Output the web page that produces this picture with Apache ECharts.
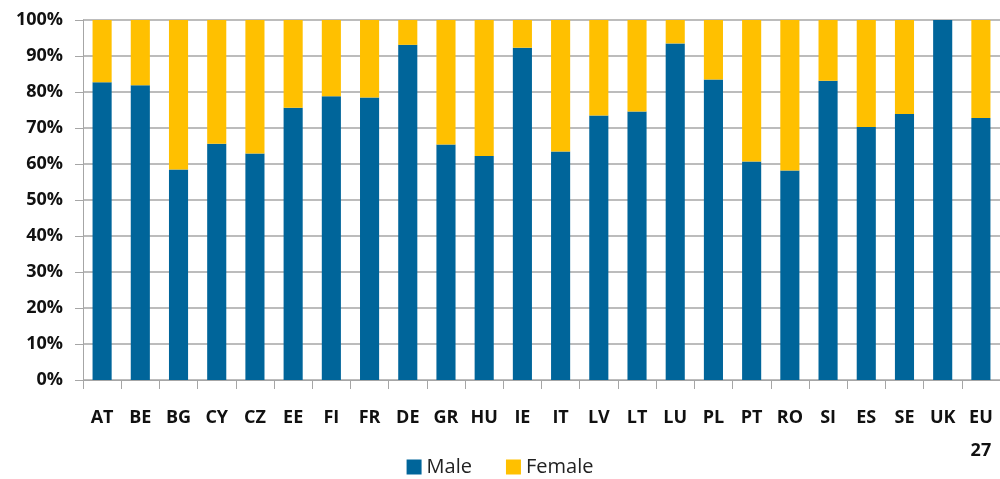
<!DOCTYPE html>
<html>
<head>
<meta charset="utf-8">
<script src="https://cdn.jsdelivr.net/npm/echarts@6/dist/echarts.min.js"></script>
<style>
  html, body { margin: 0; padding: 0; background: #fff; }
  #chart { width: 1000px; height: 479px; }
</style>
</head>
<body>
<div id="chart"></div>
<script>
// 国家 / 地区
const countries = ['AT', 'BE', 'BG', 'CY', 'CZ', 'EE', 'FI', 'FR', 'DE', 'GR', 'HU', 'IE',
  'IT', 'LV', 'LT', 'LU', 'PL', 'PT', 'RO', 'SI', 'ES', 'SE', 'UK', 'EU\n27'];

// 男性占比 (%)
const maleShare = [82.7, 81.9, 58.5, 65.6, 62.9, 75.6, 78.8, 78.5, 93.1, 65.4, 62.2, 92.3,
  63.5, 73.5, 74.6, 93.5, 83.5, 60.7, 58.2, 83.1, 70.3, 73.9, 100, 72.8];

// 女性占比 (%)
const femaleShare = [17.3, 18.1, 41.5, 34.4, 37.1, 24.4, 21.2, 21.5, 6.9, 34.6, 37.8, 7.7,
  36.5, 26.5, 25.4, 6.5, 16.5, 39.3, 41.8, 16.9, 29.7, 26.1, 0, 27.2];

const seriesNames = ['Male', 'Female'];
const colors = ['#00659A', '#FFC000'];

const font = 'Open Sans, Noto Sans, sans-serif';
const gridColor = '#A6A6A6';

const chart = echarts.init(document.getElementById('chart'));

chart.setOption({
  animation: false,
  color: colors,
  legend: {
    bottom: -3,
    left: 'center',
    itemWidth: 15,
    itemHeight: 15,
    itemGap: 34,
    icon: 'rect',
    textStyle: { fontFamily: font, fontSize: 20, color: '#222' },
    data: seriesNames,
  },
  grid: {
    top: 20,
    left: 83,
    width: 921,
    bottom: 99,
    containLabel: false,
  },
  xAxis: {
    type: 'category',
    data: countries,
    axisLine: { show: true, lineStyle: { color: gridColor, width: 1 } },
    axisTick: { show: true, length: 9, lineStyle: { color: gridColor } },
    axisLabel: {
      color: '#111',
      fontFamily: font,
      fontWeight: 'bold',
      fontSize: 18,
      margin: 21,
      lineHeight: 33,
      interval: 0,
    },
  },
  yAxis: {
    type: 'value',
    min: 0,
    max: 100,
    interval: 10,
    axisLine: { show: true, lineStyle: { color: gridColor, width: 1 } },
    axisTick: { show: true, length: 8, lineStyle: { color: gridColor } },
    axisLabel: {
      formatter: '{value}%',
      color: '#111',
      fontFamily: font,
      fontWeight: 'bold',
      fontSize: 18,
      margin: 20,
    },
    splitLine: { lineStyle: { color: gridColor, width: 1.5 } },
  },
  series: [
    {
      name: seriesNames[0],
      type: 'bar',
      stack: 'total',
      data: maleShare,
      barWidth: '50%',
      itemStyle: { color: colors[0] },
    },
    {
      name: seriesNames[1],
      type: 'bar',
      stack: 'total',
      data: femaleShare,
      barWidth: '50%',
      itemStyle: { color: colors[1] },
    },
  ],
});
</script>
</body>
</html>
